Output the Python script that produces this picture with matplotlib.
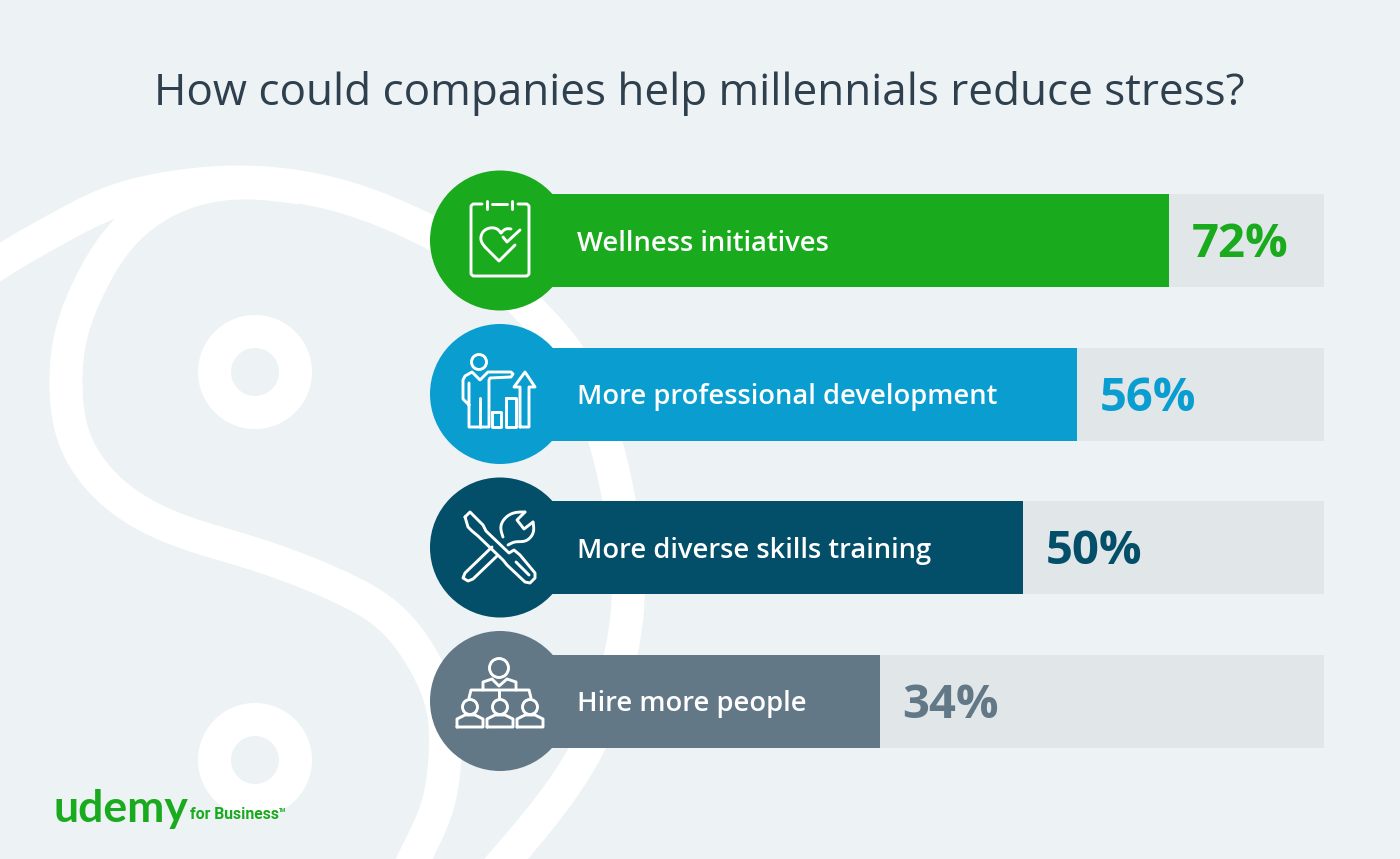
import numpy as np
import matplotlib
matplotlib.use('Agg')
from matplotlib import pyplot as plt
from matplotlib.patches import Circle

plt.rcParams['font.family'] = ['Open Sans', 'DejaVu Sans']

W, H = 1400, 859

title = 'How could companies help millennials reduce stress?'
categories = ['Wellness initiatives', 'More professional development',
              'More diverse skills training', 'Hire more people']
percents = [72, 56, 50, 34]
# the bars in the picture are not to scale, so this is their drawn share of the track
drawn_share = [81.2, 70.0, 63.5, 46.1]
colors = ['#19aa1d', '#099dd0', '#034e68', '#627887']

BG = '#edf2f5'
TRACK = '#e1e6e9'


def to_fig(x, y):
    return x / W, 1 - y / H


fig = plt.figure(figsize=(W / 100, H / 100), dpi=100, facecolor=BG)

# background and icons are in pixel coordinates
bg = fig.add_axes([0, 0, 1, 1], zorder=0)
bg.set_xlim(0, W)
bg.set_ylim(H, 0)
bg.axis('off')


def spline(pts):
    # natural cubic spline through the points, parameter is the chord length
    pts = np.array(pts, dtype=float)
    n = len(pts)
    h = np.linalg.norm(np.diff(pts, axis=0), axis=1)
    A = np.zeros((n, n))
    b = np.zeros((n, 2))
    A[0, 0] = A[-1, -1] = 1
    for i in range(1, n - 1):
        A[i, i - 1] = h[i - 1]
        A[i, i] = 2 * (h[i - 1] + h[i])
        A[i, i + 1] = h[i]
        b[i] = 6 * ((pts[i + 1] - pts[i]) / h[i] - (pts[i] - pts[i - 1]) / h[i - 1])
    m = np.linalg.solve(A, b)
    out = [pts[:1]]
    for i in range(n - 1):
        s = np.linspace(0, 1, 30)[1:, None]
        out.append((1 - s) * pts[i] + s * pts[i + 1]
                   + ((1 - s) ** 3 - (1 - s)) * m[i] * h[i] ** 2 / 6
                   + (s ** 3 - s) * m[i + 1] * h[i] ** 2 / 6)
    return np.vstack(out)


def ribbon(ax, pts, width):
    # filled band, a thick line gets cut badly at the edge of the canvas
    c = spline(pts)
    t = np.gradient(c, axis=0)
    t = t / np.linalg.norm(t, axis=1, keepdims=True)
    nrm = np.column_stack([-t[:, 1], t[:, 0]]) * width / 2
    poly = np.vstack([c + nrm, (c - nrm)[::-1]])
    ax.fill(poly[:, 0], poly[:, 1], color='white', lw=0, zorder=1)


def smooth(ax, pts, lw):
    c = spline(pts)
    ax.plot(c[:, 0], c[:, 1], color='white', lw=lw * 0.72, zorder=3,
            solid_capstyle='round', solid_joinstyle='round')


outer = [(-30, 282), (0, 262), (55, 230), (110, 203), (175, 187), (240, 182), (333, 194), (432, 233),
         (490, 270), (525, 305), (563, 347), (595, 410), (615, 480), (626, 550), (628, 600), (621, 653),
         (588, 747), (506, 859), (470, 900)]
inner = [(300, 188), (240, 183), (175, 197), (125, 232), (90, 285), (70, 340), (66, 385), (75, 440), (110, 490),
         (155, 520), (245, 551), (340, 587), (387, 615), (423, 660), (443, 710), (445, 757), (437, 807),
         (414, 859), (395, 900)]
ribbon(bg, outer, 33)
ribbon(bg, inner, 33)
for cy in (372, 760):
    bg.add_patch(Circle((255, cy), 40.5, fc='none', ec='white', lw=33 * 0.72, zorder=1))

# bars
ax = fig.add_axes([500 / W, 1 - 778 / H, 824 / W, 614 / H], zorder=1)
ax.patch.set_alpha(0)
ax.axis('off')
ax.set_xlim(0, 100)
ax.set_ylim(3.5, -0.5)
y = np.arange(len(categories))
ax.barh(y, [100] * len(y), height=0.603, color=TRACK)
ax.barh(y, drawn_share, height=0.603, color=colors)
for i, (name, pct, share, c) in enumerate(zip(categories, percents, drawn_share, colors)):
    ax.annotate(name, (9.34, i), xytext=(0, -2.2), textcoords='offset points', color='white',
                fontsize=19.75, fontweight='semibold', va='center', ha='left')
    ax.annotate('%d%%' % pct, (share + 2.73, i), xytext=(0, -2.9), textcoords='offset points', color=c,
                fontsize=34, fontweight='bold', va='center', ha='left')

# icons
ic = fig.add_axes([0, 0, 1, 1], zorder=2)
ic.set_xlim(0, W)
ic.set_ylim(H, 0)
ic.axis('off')
ic.patch.set_alpha(0)
CENTERS = [240.5, 394, 547.5, 701]
for cy, c in zip(CENTERS, colors):
    ic.add_patch(Circle((500, cy), 70, fc=c, ec='none'))

LW = 2.1


def line(pts, lw=LW):
    a = np.array(pts, dtype=float)
    ic.plot(a[:, 0], a[:, 1], color='white', lw=lw, solid_capstyle='round', solid_joinstyle='round')


def ring(x, y, r, lw=LW):
    ic.add_patch(Circle((x, y), r, fc='none', ec='white', lw=lw))


# clipboard with heart
line([(482, 204), (473, 204), (471, 206), (471, 274), (473, 276), (527, 276), (529, 274), (529, 206),
      (527, 204), (518, 204)])
line([(487, 201), (487, 209)])
line([(512, 201), (512, 209)])
line([(492, 204), (507, 204)])
smooth(ic, [(511, 229), (506, 229), (501, 233)], 2.9)
smooth(ic, [(501, 233), (497, 229), (490, 228), (483, 232), (481, 240), (485, 247)], 2.9)
line([(485, 247), (499, 261), (515, 245)])
line([(503, 237), (507, 242), (520, 230)])

# person with rising chart
ring(479, 362, 7.5)
line([(469, 383), (469, 427), (489, 427), (489, 380), (490, 378), (511, 377), (513, 374), (511, 372), (488, 372),
      (480, 380), (472, 372), (465, 376), (463, 380), (463, 399), (469, 405)])
line([(480, 398), (480, 427)])
line([(492, 412), (501, 412), (501, 427), (492, 427), (492, 412)])
line([(506, 398), (516, 398), (516, 427), (506, 427), (506, 398)])
line([(520, 427), (520, 387), (514, 387), (525, 372), (535, 387), (529, 387), (529, 427), (520, 427)])

# crossed tools
line([(465, 517), (470, 512), (483, 525), (486, 531), (509, 553), (514, 550), (520, 555), (535, 573), (535, 578),
      (530, 583), (525, 582), (507, 565), (503, 560), (478, 536), (472, 531), (468, 527), (465, 517)])
line([(516, 562), (529, 575)])
line([(492, 547), (465, 573), (463, 578), (468, 581), (473, 579), (497, 556)])
smooth(ic, [(503, 537), (501, 526), (511, 514), (525, 512)], 2.9)
line([(525, 512), (517, 520), (524, 529), (533, 522)])
smooth(ic, [(533, 522), (533, 533), (525, 541), (515, 542), (508, 545)], 2.9)

# team tree
ring(499, 668, 9.5)
line([(483, 690), (483, 682), (492, 679), (499, 686), (507, 679), (516, 682), (516, 690)])
line([(469, 698), (471, 690), (529, 690), (531, 698)])
line([(499, 690), (499, 698)])
for x in (470, 500, 530):
    ring(x, 707, 7.5)
    line([(x - 13, 727), (x - 13, 719), (x - 5, 715), (x + 5, 715), (x + 13, 719), (x + 13, 727), (x - 13, 727)])

# title and logo
fig.text(*to_fig(699.5, 105), title, color='#2e3f4e', fontsize=31.7, ha='center', va='baseline')
fig.text(*to_fig(54, 822), 'udemy', color='#19aa1d', fontsize=32, family=['Lato', 'DejaVu Sans'],
         fontweight='bold', ha='left', va='baseline')
fig.text(*to_fig(190, 819), 'for Business', color='#19aa1d', fontsize=11.3, fontweight='bold',
         family=['Roboto', 'DejaVu Sans'], ha='left', va='baseline')
fig.text(*to_fig(279, 811), 'TM', color='#19aa1d', fontsize=3.5, fontweight='bold', ha='left', va='center')

fig.savefig('out.png', dpi=100, facecolor=BG)
